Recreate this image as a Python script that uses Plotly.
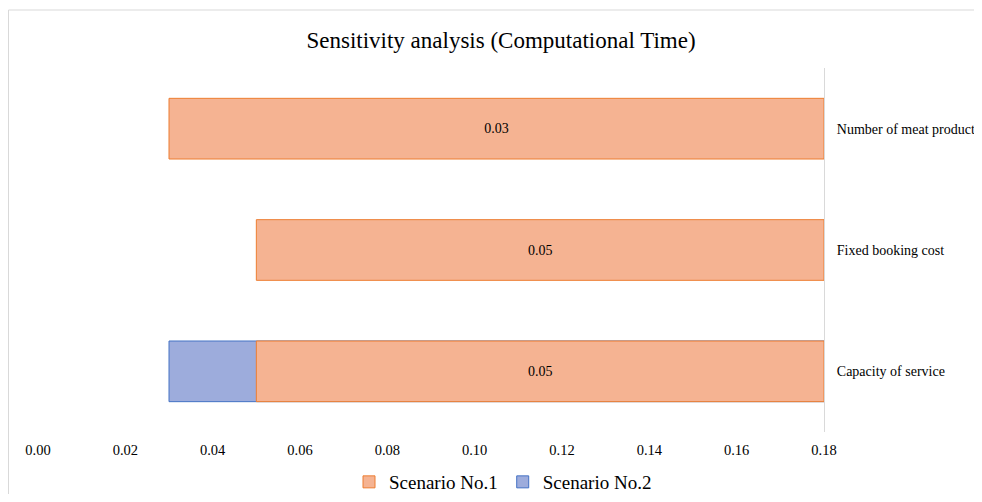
import plotly.graph_objects as go

categories = ["Capacity of service", "Fixed booking cost", "Number of meat product"]
scenario1 = [0.05, 0.05, 0.03]
scenario2 = [0.03, None, None]
axis_cross = 0.18
tick_vals = [0.00, 0.02, 0.04, 0.06, 0.08, 0.10, 0.12, 0.14, 0.16, 0.18]
tick_text = ["0.00", "0.02", "0.04", "0.06", "0.08", "0.10", "0.12", "0.14", "0.16", "0.18"]

FONT = "Liberation Serif, Times New Roman, serif"

W, H = 966, 486           # page body margin of 8px fills the rest of the window
PL, PR, PT, PB = 30, 816, 60, 424   # plot area in figure pixels

def rel(vals):
    return [None if v is None else v - axis_cross for v in vals]

fig = go.Figure()
fig.add_trace(go.Bar(
    y=categories, x=rel(scenario2), base=axis_cross, orientation="h",
    name="Scenario No.2", legendrank=2,
    marker=dict(color="#9DACDC", line=dict(color="#4472C4", width=1)),
    width=0.5, hoverinfo="skip",
))
fig.add_trace(go.Bar(
    y=categories, x=rel(scenario1), base=axis_cross, orientation="h",
    name="Scenario No.1", legendrank=1,
    customdata=scenario1,
    texttemplate="%{customdata:.2f}", textposition="inside",
    insidetextanchor="middle", textangle=0,
    textfont=dict(family=FONT, size=14, color="#000000"),
    marker=dict(color="#F5B392", line=dict(color="#ED7D31", width=1)),
    width=0.5, hoverinfo="skip",
))

fig.update_layout(
    width=W, height=H,
    barmode="overlay",
    paper_bgcolor="white", plot_bgcolor="white",
    margin=dict(l=PL, r=W - PR, t=PT, b=H - PB, autoexpand=False),
    font=dict(family=FONT, size=14, color="#000000"),
    title=dict(text="Sensitivity analysis (Computational Time)",
               x=493 / W, xref="container", xanchor="center",
               y=1 - 32 / H, yref="container", yanchor="middle",
               font=dict(family=FONT, size=23, color="#000000")),
    xaxis=dict(range=[0, 0.18], tickvals=tick_vals, ticktext=tick_text,
               showgrid=False, zeroline=False, showline=False,
               ticks="", ticklabelstandoff=7, automargin=False,
               tickfont=dict(family=FONT, size=14.5, color="#000000")),
    yaxis=dict(side="right", showgrid=False, zeroline=False,
               showline=True, linecolor="#D9D9D9", linewidth=1,
               ticks="", ticklabelstandoff=9, automargin=False,
               tickfont=dict(family=FONT, size=14, color="#000000")),
    legend=dict(orientation="h", xref="container", yref="container",
                x=495 / W, xanchor="center", y=1 - 474 / H, yanchor="middle",
                font=dict(family=FONT, size=19, color="#000000"),
                itemwidth=30, traceorder="normal"),
    showlegend=True,
)

pw, ph = PR - PL, PB - PT
fig.add_shape(type="line", xref="paper", yref="paper",
              x0=(0.5 - PL) / pw, x1=1.3, y0=(PB - 2) / ph, y1=(PB - 2) / ph,
              line=dict(color="#D9D9D9", width=1))
fig.add_shape(type="line", xref="paper", yref="paper",
              x0=(0.5 - PL) / pw, x1=(0.5 - PL) / pw, y0=(PB - 2) / ph, y1=-0.3,
              line=dict(color="#D9D9D9", width=1))

fig.write_html("out.html")
